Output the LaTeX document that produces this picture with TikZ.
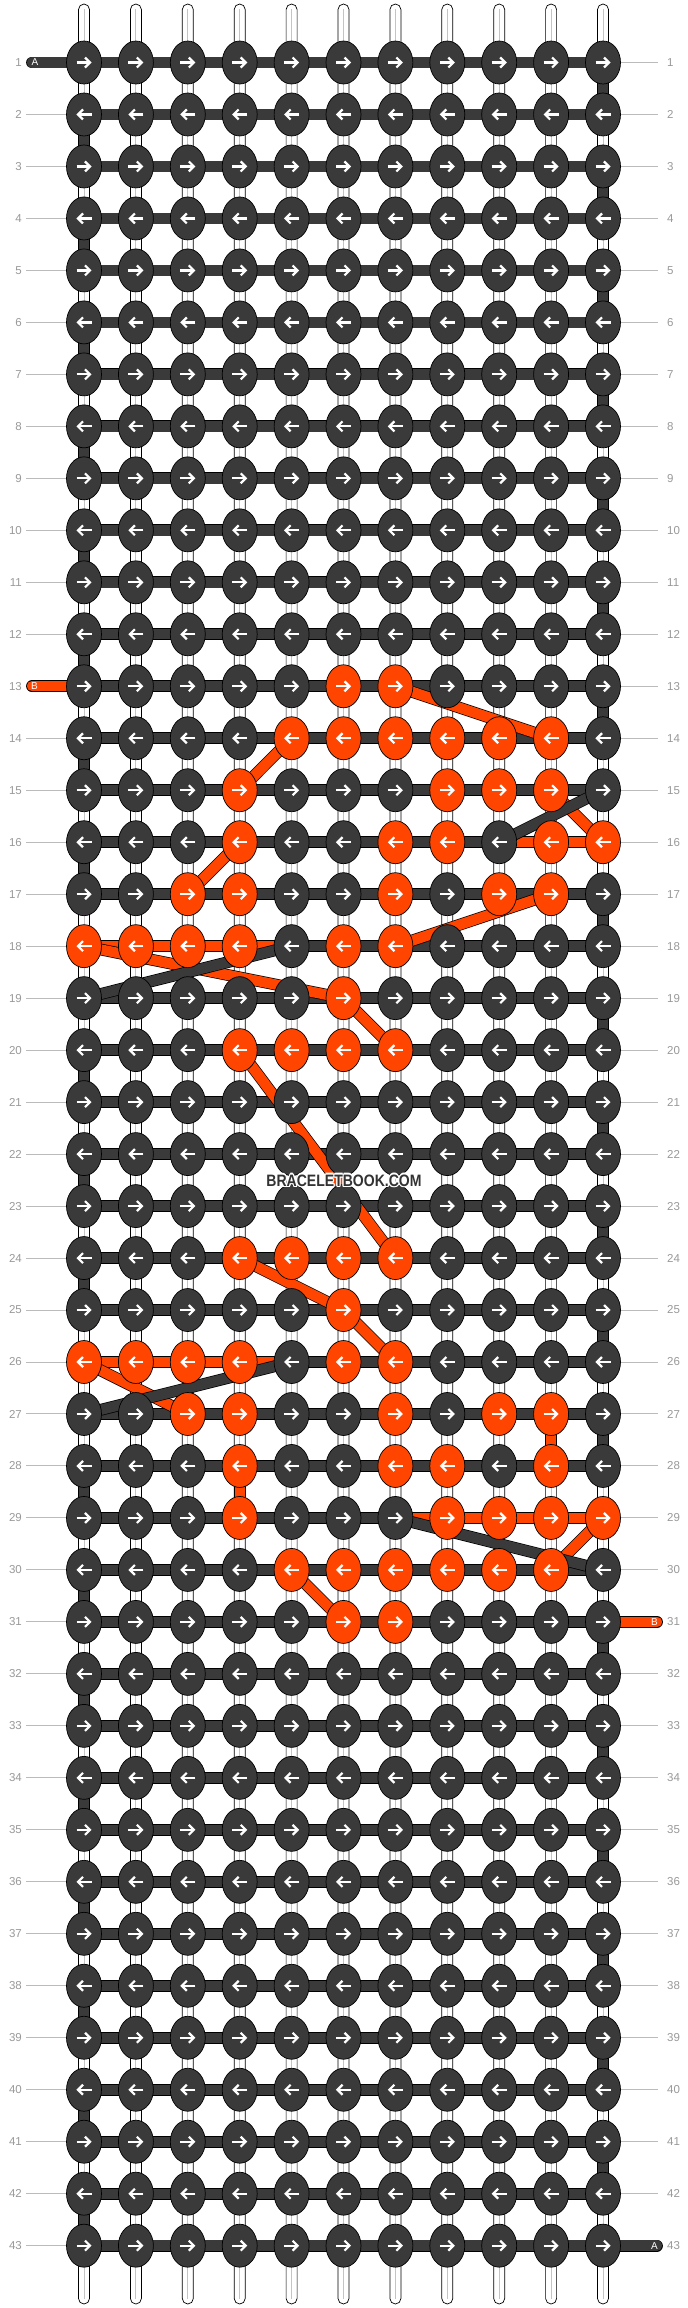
\documentclass[tikz,border=0pt]{standalone}
\usepackage{fontspec}
\setmainfont{Liberation Sans}
\usetikzlibrary{shapes.geometric}
\definecolor{kdark}{HTML}{3A3A3A}
\definecolor{korange}{HTML}{FF4500}
\definecolor{numgrey}{HTML}{999999}
\definecolor{rulegrey}{HTML}{BBBBBB}
\definecolor{strgrey}{HTML}{C4C4C4}
\definecolor{wmgrey}{HTML}{333333}
\tikzset{
  knot/.style={ellipse, draw=black, line width=0.7pt, fill=#1, minimum width=35pt, minimum height=43pt, inner sep=0pt},
  strand/.style={draw=black, line width=0.7pt, double=#1, double distance=10.4pt},
  rowrule/.style={draw=rulegrey, line width=1pt},
  rownum/.style={text=numgrey, inner sep=0pt, font=\fontsize{11.5}{12}\selectfont},
  tag/.style={text=white, inner sep=0pt, font=\fontsize{10}{10}\selectfont},
  wmark/.style={inner sep=0pt, font=\bfseries\fontsize{16.5}{17}\selectfont},
  rarrow/.pic={\draw[white, line width=2.2pt] (-7.5,0) -- (5.5,0);
               \draw[white, line width=2.2pt, line join=miter] (1,-5) -- (6,0) -- (1,5);},
  larrow/.pic={\draw[white, line width=2.2pt] (7.5,0) -- (-5.5,0);
               \draw[white, line width=2.2pt, line join=miter] (-1,-5) -- (-6,0) -- (-1,5);}
}
\begin{document}
\begin{tikzpicture}[x=1pt,y=-1pt]
\useasboundingbox (0,0) rectangle (688,2308);
\fill[white] (0,0) rectangle (688,2308);

% grid positions
\foreach \r in {1,...,43}{\foreach \c in {1,...,11}{
  \coordinate (p-\r-\c) at ({84+51.9*(\c-1)},{62.5+51.98*(\r-1)});}}

% orange knots
\foreach \p in {13-6,13-7,
  14-5,14-6,14-7,14-8,14-9,14-10,
  15-4,15-8,15-9,15-10,
  16-4,16-7,16-8,16-10,16-11,
  17-3,17-4,17-7,17-9,17-10,
  18-1,18-2,18-3,18-4,18-6,18-7,
  19-6,
  20-4,20-5,20-6,20-7,
  24-4,24-5,24-6,24-7,
  25-6,
  26-1,26-2,26-3,26-4,26-6,26-7,
  27-3,27-4,27-7,27-9,27-10,
  28-4,28-7,28-8,28-10,
  29-4,29-8,29-9,29-10,29-11,
  30-5,30-6,30-7,30-8,30-9,30-10,
  31-6,31-7}{\expandafter\gdef\csname or@\p\endcsname{}}

% vertical base strings
\foreach \c in {1,...,11}{
  \pgfmathsetmacro\sx{84+51.9*(\c-1)}
  \draw[fill=white, draw=black, line width=0.7pt, rounded corners=5.5pt] (\sx-5.5,4) rectangle (\sx+5.5,2304);
  \draw[strgrey, line width=1pt] (\sx,9) -- (\sx,2299);
}

% turning blocks of the row strings
\foreach \r [evaluate=\r as \rn using int(\r+1)] in {1,3,5,7,9,11,13,17,19,21,23,25,27,31,33,35,37,39,41}
  {\draw[strand=kdark] (p-\r-11) -- (p-\rn-11);}
\foreach \r [evaluate=\r as \rn using int(\r+1)] in {2,4,6,8,10,12,14,16,20,22,24,28,30,32,34,36,38,40,42}
  {\draw[strand=kdark] (p-\r-1) -- (p-\rn-1);}
\draw[strand=korange] (p-27-10) -- (p-28-10);
\draw[strand=korange] (p-28-4) -- (p-29-4);

% horizontal row strings
\foreach \r in {1,...,43}{\foreach \c [evaluate=\c as \cn using int(\c+1)] in {1,...,10}{
  \draw[strand=kdark] (p-\r-\c) -- (p-\r-\cn);}}
\foreach \r/\c [evaluate=\c as \cn using int(\c+1)] in {16/9,16/10,18/1,18/2,18/3,18/4,26/1,26/2,26/3,26/4,29/7,29/8,29/9,29/10}
  {\draw[strand=korange] (p-\r-\c) -- (p-\r-\cn);}

% string ends with tags
\coordinate (A-in) at ([xshift=-52pt]p-1-1);
\coordinate (B-in) at ([xshift=-52pt]p-13-1);
\coordinate (B-out) at ([xshift=54pt]p-31-11);
\coordinate (A-out) at ([xshift=54pt]p-43-11);
\draw[strand=kdark, line cap=round] (A-in) -- (p-1-1);
\draw[strand=korange, line cap=round] (B-in) -- (p-13-1);
\draw[strand=korange, line cap=round] (B-out) -- (p-31-11);
\draw[strand=kdark, line cap=round] (A-out) -- (p-43-11);
\node[tag] (tagA1) at ([xshift=-49pt]p-1-1) {A};
\node[tag] (tagB1) at ([xshift=-49.5pt]p-13-1) {B};
\node[tag] (tagB2) at ([xshift=51.5pt]p-31-11) {B};
\node[tag] (tagA2) at ([xshift=51.5pt]p-43-11) {A};

% diagonal jumps
\foreach \a/\b in {13-7/14-10, 14-5/15-4, 15-10/16-11, 16-4/17-3, 17-10/18-7, 18-1/19-6, 19-6/20-7,
                   20-4/24-7, 24-4/25-6, 25-6/26-7, 26-1/27-3, 29-11/30-10, 30-5/31-6}
  {\draw[strand=korange] (p-\a) -- (p-\b);}
\foreach \a/\b in {15-11/16-9, 18-5/19-1, 26-5/27-1, 29-7/30-11}
  {\draw[strand=kdark] (p-\a) -- (p-\b);}

% knots
\foreach \r in {1,...,43}{\foreach \c in {1,...,11}{
  \ifcsname or@\r-\c\endcsname\def\kc{korange}\else\def\kc{kdark}\fi
  \node[knot=\kc] (k-\r-\c) at (p-\r-\c) {};
  \ifodd\r\relax \pic at (p-\r-\c) {rarrow};\else \pic at (p-\r-\c) {larrow};\fi
}}

% row numbers
\foreach \r in {1,...,43}{
  \node[rownum, anchor=east] (ln-\r) at ([xshift=-62pt]p-\r-1) {\r};
  \node[rownum, anchor=west] (rn-\r) at ([xshift=64pt]p-\r-11) {\r};
  \ifnum\r=1\relax\else\ifnum\r=13\relax\else
    \draw[rowrule, shorten <=4pt] (ln-\r) -- (k-\r-1);
  \fi\fi
  \ifnum\r=31\relax\else\ifnum\r=43\relax\else
    \draw[rowrule, shorten >=9pt] (k-\r-11) -- (rn-\r);
  \fi\fi
}

% watermark
\coordinate (wm) at (344,1180.5);
\foreach \dx/\dy in {-1.2/0,1.2/0,0/-1.2,0/1.2,-0.9/-0.9,0.9/0.9,-0.9/0.9,0.9/-0.9}
  {\node[wmark, text=white] at ([xshift=\dx pt, yshift=\dy pt]wm) {\scalebox{0.85}[1]{BRACELETBOOK.COM}};}
\node[wmark, text=wmgrey] (wmtext) at (wm) {\scalebox{0.85}[1]{BRACELETBOOK.COM}};
\end{tikzpicture}
\end{document}
